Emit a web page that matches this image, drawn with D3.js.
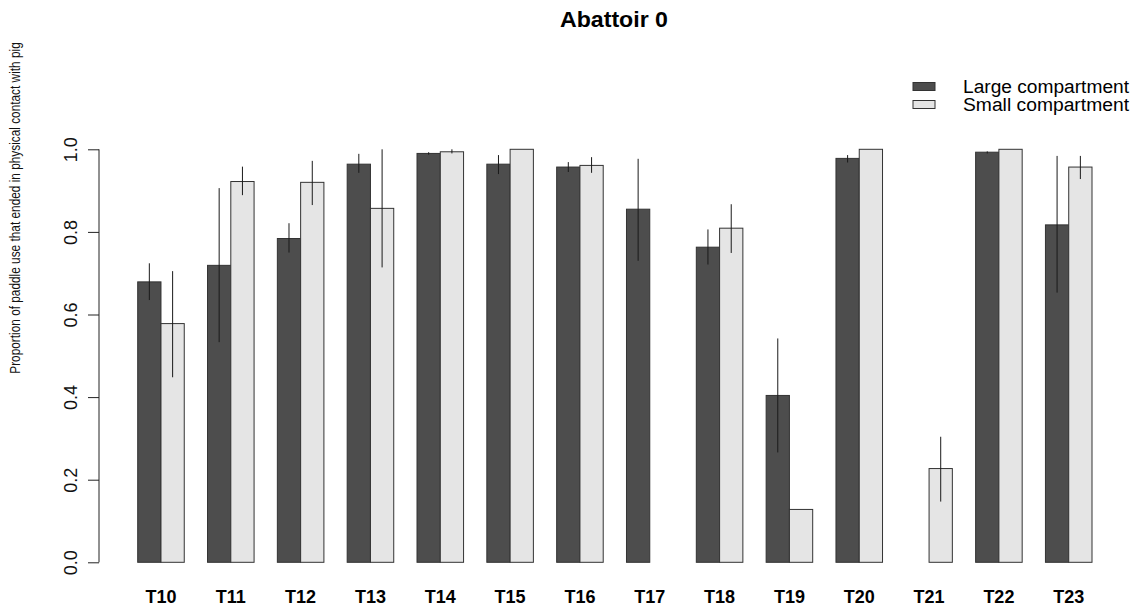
<!DOCTYPE html>
<html>
<head>
<meta charset="utf-8">
<script type="text/javascript" src="https://cdn.jsdelivr.net/npm/d3@7"></script>
<style>
	body { margin: 0; background: #fff; }
	text { font-family: "Liberation Sans", Arial, sans-serif; }
</style>
</head>
<body>

<svg width="1138" height="607"></svg>

<script type="text/javascript">

	var groups = ["T10", "T11", "T12", "T13", "T14", "T15", "T16", "T17", "T18", "T19", "T20", "T21", "T22", "T23"];

	// proportions, null = no bar
	var large = [0.679, 0.719, 0.784, 0.964, 0.990, 0.964, 0.957, 0.855, 0.763, 0.404, 0.978, null, 0.993, 0.817];
	var small = [0.578, 0.922, 0.920, 0.857, 0.994, 1.000, 0.961, null, 0.809, 0.128, 1.000, 0.227, 1.000, 0.957];

	// error bar ends
	var largeLo = [0.635, 0.533, 0.750, 0.943, 0.987, 0.940, 0.945, 0.730, 0.721, 0.266, 0.968, null, 0.990, 0.653];
	var largeHi = [0.724, 0.906, 0.821, 0.989, 0.993, 0.986, 0.969, 0.977, 0.806, 0.542, 0.986, null, 0.995, 0.984];
	var smallLo = [0.448, 0.889, 0.865, 0.714, 0.990, null, 0.943, null, 0.749, null, null, 0.147, null, 0.928];
	var smallHi = [0.705, 0.958, 0.972, 1.000, 1.000, null, 0.981, null, 0.867, null, null, 0.304, null, 0.984];

	var yTicks = [0, 0.2, 0.4, 0.6, 0.8, 1.0];

	var series = [
		{ name: "Large compartment", values: large, lo: largeLo, hi: largeHi, fill: "#4d4d4d", off: 0 },
		{ name: "Small compartment", values: small, lo: smallLo, hi: smallHi, fill: "#e5e5e5", off: 1 }
	];

	var svg = d3.select("svg");

	// bar units: group i starts at 1 + 3*i, each bar 1 unit wide
	var x = d3.scaleLinear().domain([1, 42]).range([137.7, 1092]);
	var y = d3.scaleLinear().domain([0, 1]).range([562.3, 149.3]);

	// Title
	svg.append("text")
		.attr("x", 614)
		.attr("y", 27)
		.attr("text-anchor", "middle")
		.attr("font-size", 22)
		.attr("font-weight", "bold")
		.attr("textLength", 108)
		.attr("lengthAdjust", "spacingAndGlyphs")
		.text("Abattoir 0");

	// Y axis
	var yAxis = d3.axisLeft(y).tickValues(yTicks).tickSize(11).tickFormat(d3.format(".1f"));
	var ga = svg.append("g").attr("transform", "translate(99,0)").call(yAxis);
	ga.select(".domain").attr("d", "M0," + y(0) + "V" + y(1)).attr("stroke", "#222");
	ga.selectAll(".tick line").attr("stroke", "#222");
	ga.selectAll(".tick text")
		.attr("font-size", 18)
		.attr("font-family", "Liberation Sans, Arial, sans-serif")
		.attr("fill", "#111")
		.attr("text-anchor", "middle")
		.attr("dy", null)
		.attr("x", null)
		.attr("transform", "translate(-28,0) rotate(-90) translate(0,6)");

	// axis title, squeezed along its length like the original
	svg.append("text")
		.attr("transform", "translate(20,208) rotate(-90) scale(0.8,1)")
		.attr("text-anchor", "middle")
		.attr("font-size", 14.8)
		.attr("fill", "#111")
		.text("Proportion of paddle use that ended in physical contact with pig");

	// Bars
	series.forEach(function(s) {
		var idx = d3.range(groups.length).filter(function(i) { return s.values[i] !== null; });

		svg.append("g").selectAll("rect").data(idx).enter()
			.append("rect")
			.attr("x", function(i) { return x(1 + 3 * i + s.off); })
			.attr("y", function(i) { return y(s.values[i]); })
			.attr("width", x(2) - x(1))
			.attr("height", function(i) { return y(0) - y(s.values[i]); })
			.attr("fill", s.fill)
			.attr("stroke", "#333")
			.attr("stroke-width", 1);

		var eb = idx.filter(function(i) { return s.lo[i] !== null; });
		svg.append("g").selectAll("line").data(eb).enter()
			.append("line")
			.attr("x1", function(i) { return x(1.5 + 3 * i + s.off); })
			.attr("x2", function(i) { return x(1.5 + 3 * i + s.off); })
			.attr("y1", function(i) { return y(s.lo[i]); })
			.attr("y2", function(i) { return y(s.hi[i]); })
			.attr("stroke", "#1a1a1a")
			.attr("stroke-width", 1);
	});

	// Group labels
	svg.append("g").selectAll("text").data(groups).enter()
		.append("text")
		.attr("x", function(d, i) { return x(2 + 3 * i); })
		.attr("y", 603)
		.attr("text-anchor", "middle")
		.attr("font-size", 18)
		.attr("font-weight", "bold")
		.text(function(d) { return d; });

	// Legend
	var leg = svg.append("g").selectAll("g").data(series).enter().append("g");
	leg.append("rect")
		.attr("x", 913)
		.attr("y", function(d, i) { return 82.5 + i * 18; })
		.attr("width", 22)
		.attr("height", 8)
		.attr("fill", function(d) { return d.fill; })
		.attr("stroke", "#333");
	leg.append("text")
		.attr("x", 963)
		.attr("y", function(d, i) { return 93 + i * 18; })
		.attr("font-size", 18)
		.attr("textLength", 166)
		.attr("lengthAdjust", "spacingAndGlyphs")
		.text(function(d) { return d.name; });

</script>

</body>
</html>
